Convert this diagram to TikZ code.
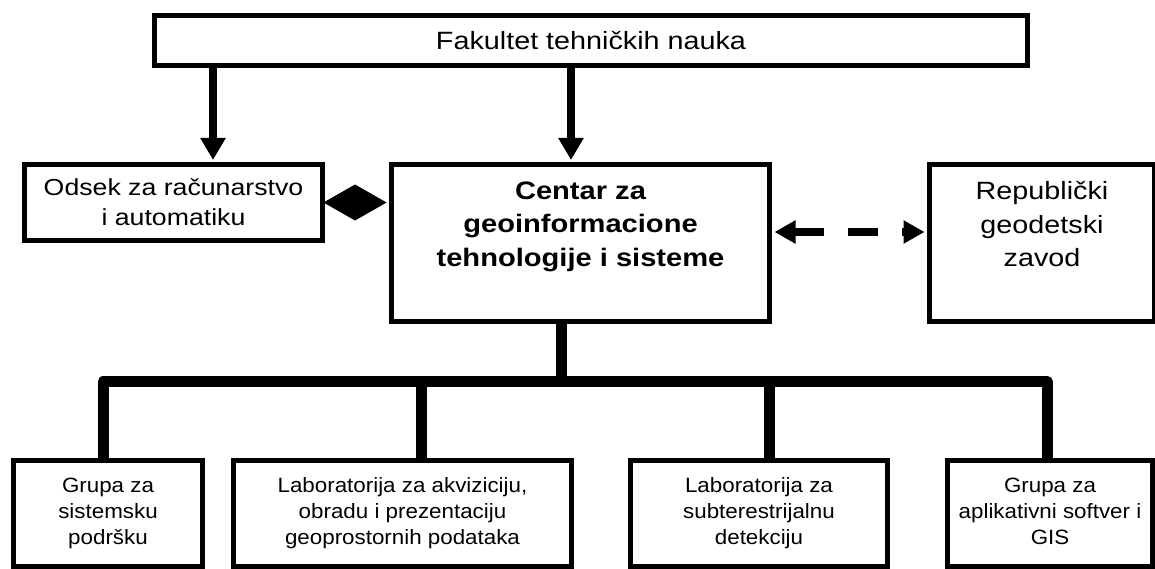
\documentclass[tikz,border=0pt]{standalone}
\usepackage{fontspec}
\setmainfont{Liberation Sans}
\newfontfamily\fA[FakeStretch=1.15]{Liberation Sans}
\newfontfamily\fB[FakeStretch=1.08]{Liberation Sans}
\usetikzlibrary{arrows.meta}
\begin{document}
\begin{tikzpicture}[x=1pt,y=-1pt,
  box/.style={draw=black, line width=5pt, inner sep=0pt, fill=white},
  txt/.style={inner sep=0pt, align=center},
  downarr/.style={line width=8pt, -{Triangle[length=22pt,width=24pt]}, shorten >=2pt},
  bus/.style={line width=11pt, line join=round},
  dasharr/.style={line width=8pt, {Triangle[length=21pt,width=22pt]}-{Triangle[length=21pt,width=22pt]},
     dash pattern=on 30pt off 24pt, shorten >=2.5pt, shorten <=2.5pt},
  diamarr/.style={line width=1pt, -{Diamond[length=63pt,width=36pt]}, shorten >=2.5pt}
]
\useasboundingbox (0,0) rectangle (1155,569);
\fill[white] (0,0) rectangle (1155,569);

% boxes
\node[box, minimum width=873pt, minimum height=50pt] (top) at (591,40.5) {};
\node[box, minimum width=298pt, minimum height=76pt] (odsek) at (173.5,202.5) {};
\node[box, minimum width=378pt, minimum height=157pt] (centar) at (580.5,243) {};
\node[box, minimum width=225pt, minimum height=157pt] (rgz) at (1042,243) {};
\node[box, minimum width=189pt, minimum height=106pt] (b1) at (108,513.5) {};
\node[box, minimum width=338pt, minimum height=106pt] (b2) at (402.5,513.5) {};
\node[box, minimum width=257pt, minimum height=106pt] (b3) at (759,513.5) {};
\node[box, minimum width=205pt, minimum height=106pt] (b4) at (1050,513.5) {};

% texts
\node[txt, anchor=base, font=\fA\fontsize{25}{30}\selectfont] (topt) at (591,50) {Fakultet tehničkih nauka};
\node[txt, font=\fA\fontsize{23.2}{30}\selectfont] (odsekt) at (173.5,205) {\strut Odsek za računarstvo\\\strut i automatiku};
\node[txt, font=\fA\bfseries\fontsize{25.3}{33.5}\selectfont] (centart) at (580.5,225.8) {\strut Centar za\\\strut geoinformacione\\\strut tehnologije i sisteme};
\node[txt, font=\fA\fontsize{25}{33.7}\selectfont] (rgzt) at (1042,226.3) {\strut Republički\\\strut geodetski\\\strut zavod};
\node[txt, font=\fB\fontsize{20.7}{26}\selectfont] (b1t) at (108,512.8) {\strut Grupa za\\\strut sistemsku\\\strut podršku};
\node[txt, font=\fB\fontsize{20.7}{26}\selectfont] (b2t) at (402.5,512.8) {\strut Laboratorija za akviziciju,\\\strut obradu i prezentaciju\\\strut geoprostornih podataka};
\node[txt, font=\fB\fontsize{20.7}{26}\selectfont] (b3t) at (759,512.8) {\strut Laboratorija za\\\strut subterestrijalnu\\\strut detekciju};
\node[txt, font=\fB\fontsize{20.7}{26}\selectfont] (b4t) at (1050,512.8) {\strut Grupa za\\\strut aplikativni softver i\\\strut GIS};

% connector x positions
\coordinate (a1) at (213,0);
\coordinate (a2) at (571,0);
\coordinate (s0) at (561,0);
\coordinate (j1) at (103,381.5);
\coordinate (j4) at (1047,381.5);
\coordinate (s2) at (421,381.5);
\coordinate (s3) at (769,381.5);
\coordinate (d0) at (0,232);

% arrows from top box
\draw[downarr] (top.south -| a1) -- (odsek.north -| a1);
\draw[downarr] (top.south -| a2) -- (centar.north -| a2);

% diamond
\draw[diamarr] (odsek.east) -- (centar.west |- odsek.east);

% dashed double arrow
\draw[dasharr] (centar.east |- d0) -- (rgz.west |- d0);

% tree
\draw[line width=11pt] (centar.south -| s0) -- ([yshift=5.5pt]s0 |- j1);
\draw[bus] (b1.north -| j1) -- (j1) -- (j4) -- (b4.north -| j4);
\draw[line width=11pt] (s2) -- (b2.north -| s2);
\draw[line width=11pt] (s3) -- (b3.north -| s3);
\end{tikzpicture}
\end{document}
